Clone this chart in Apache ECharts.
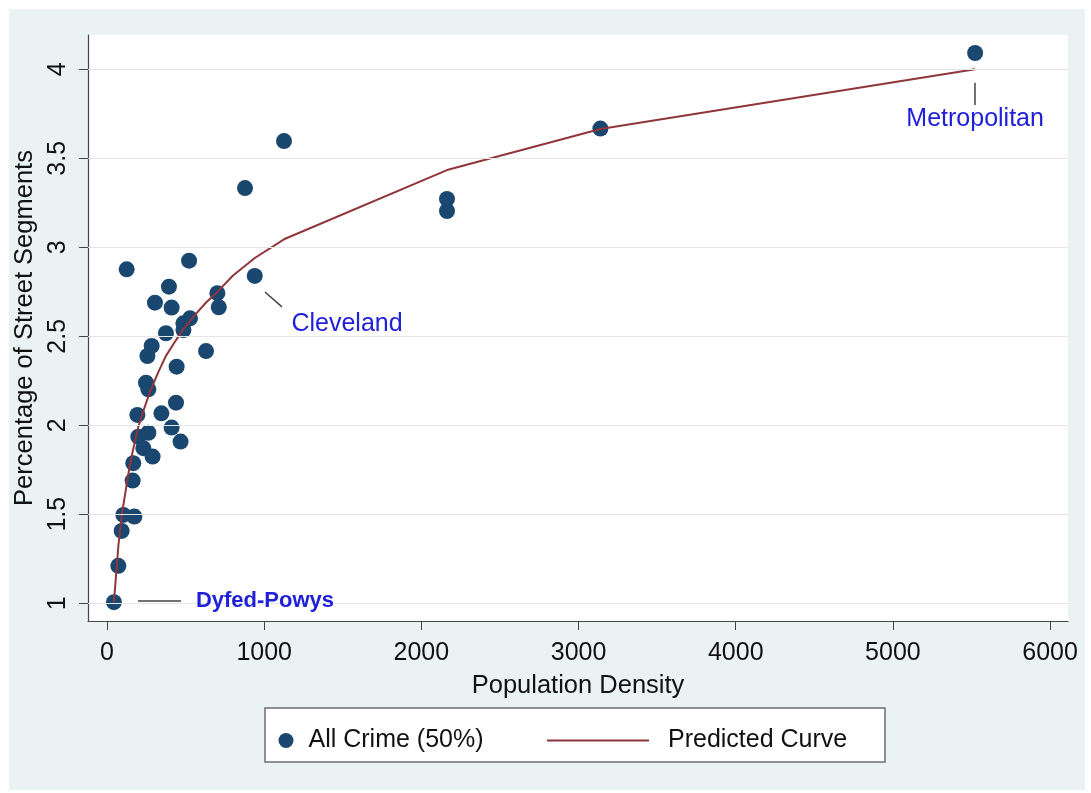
<!DOCTYPE html>
<html>
<head>
<meta charset="utf-8">
<script src="https://cdn.jsdelivr.net/npm/echarts@6/dist/echarts.min.js"></script>
<style>
html,body{margin:0;padding:0;background:#ffffff;}
#chart{width:1091px;height:793px;}
</style>
</head>
<body>
<div id="chart"></div>
<script>
// ---- data ----
const densityX = [125, 522, 394, 305, 411, 940, 702, 711, 528, 486, 486, 375, 284, 257, 630, 443, 248, 263, 439, 193, 346, 411, 468, 263, 199, 231, 290, 167, 163, 104, 174, 93, 72, 44, 1126, 878, 2163, 2163, 3139, 5523];
const crimePct = [2.876, 2.925, 2.779, 2.689, 2.661, 2.839, 2.742, 2.663, 2.601, 2.573, 2.535, 2.517, 2.446, 2.389, 2.417, 2.329, 2.239, 2.202, 2.127, 2.058, 2.067, 1.987, 1.908, 1.958, 1.936, 1.871, 1.824, 1.787, 1.689, 1.496, 1.487, 1.406, 1.210, 1.006, 3.597, 3.333, 3.272, 3.204, 3.667, 4.092];
const curveX = [44, 55, 72, 93, 120, 146, 170, 199, 235, 274, 327, 375, 440, 486, 560, 630, 697, 800, 940, 1126, 2163, 3139, 5523];
const curveY = [1.006, 1.13, 1.32, 1.49, 1.64, 1.78, 1.88, 1.99, 2.09, 2.19, 2.30, 2.39, 2.48, 2.54, 2.62, 2.69, 2.745, 2.84, 2.94, 3.045, 3.434, 3.665, 4.0];
const xTicks = [0, 1000, 2000, 3000, 4000, 5000, 6000];
const yTicks = [1, 1.5, 2, 2.5, 3, 3.5, 4];
const seriesNames = ['All Crime (50%)', 'Predicted Curve'];
// annotation: label text position and leader line ends (data units)
const annoNames = ['Metropolitan', 'Cleveland', 'Dyfed-Powys'];
const annoLabelX = [5523, 1527, 1005];
const annoLabelY = [3.72, 2.57, 1.01];
const annoLineX1 = [5523, 1005, 197];
const annoLineY1 = [3.924, 2.749, 1.013];
const annoLineX2 = [5523, 1113, 471];
const annoLineY2 = [3.80, 2.665, 1.013];

const FONT = '"Liberation Sans", Arial, Helvetica, sans-serif';
const chart = echarts.init(document.getElementById('chart'), null, {renderer: 'canvas'});

const scatterData = densityX.map((x, i) => [x, crimePct[i]]);
const curveData = curveX.map((x, i) => [x, curveY[i]]);
const annoData = annoNames.map((n, i) => ({
  value: [annoLabelX[i], annoLabelY[i]],
  name: n,
  label: i === 2 ? {fontWeight: 'bold', fontSize: 22} : {}
}));
const leaderLines = annoNames.map((n, i) => [
  {coord: [annoLineX1[i], annoLineY1[i]]},
  {coord: [annoLineX2[i], annoLineY2[i]]}
]);

const option = {
  animation: false,
  backgroundColor: '#ffffff',
  graphic: [
    {type: 'rect', z: -10, silent: true, shape: {x: 9, y: 9, width: 1076, height: 781}, style: {fill: '#eaf2f3'}},
    {type: 'rect', z: -5, silent: true, shape: {x: 265, y: 708, width: 620, height: 54}, style: {fill: '#ffffff', stroke: '#6e6e6e', lineWidth: 1.5}}
  ],
  grid: {left: 88, right: 23, top: 35, bottom: 172, show: true, backgroundColor: '#ffffff', borderWidth: 0, containLabel: false},
  xAxis: {
    type: 'value', min: -121, max: 6114,
    name: 'Population Density', nameLocation: 'middle', nameGap: 52,
    nameTextStyle: {fontFamily: FONT, fontSize: 25.5, color: '#111'},
    axisLine: {show: true, onZero: false, lineStyle: {color: '#444', width: 1.2}},
    axisTick: {show: true, customValues: xTicks, length: 9, lineStyle: {color: '#444'}},
    axisLabel: {customValues: xTicks, formatter: v => String(v), fontFamily: FONT, fontSize: 25, color: '#111', margin: 20},
    splitLine: {show: false}
  },
  yAxis: {
    type: 'value', min: 0.90, max: 4.193,
    name: 'Percentage of Street Segments', nameLocation: 'middle', nameRotate: 90, nameGap: 38,
    nameTextStyle: {fontFamily: FONT, fontSize: 25.5, color: '#111'},
    axisLine: {show: true, onZero: false, lineStyle: {color: '#444', width: 1.2}},
    axisTick: {show: true, customValues: yTicks, length: 9, lineStyle: {color: '#444'}},
    axisLabel: {customValues: yTicks, formatter: v => String(v), rotate: 90, fontFamily: FONT, fontSize: 25, color: '#111', margin: 17},
    splitLine: {show: false}
  },
  legend: [
    {data: [seriesNames[0]], left: 278.5, top: 728, padding: 0, itemWidth: 15, itemHeight: 15, icon: 'circle',
     textStyle: {fontFamily: FONT, fontSize: 25, color: '#111', padding: [0, 0, 0, 10]}},
    {data: [{name: seriesNames[1], icon: 'rect', itemStyle: {color: '#90353b'}}], left: 547, top: 728, padding: 0, itemWidth: 102, itemHeight: 2,
     textStyle: {fontFamily: FONT, fontSize: 25, color: '#111', padding: [0, 0, 0, 14]}}
  ],
  series: [
    {
      name: 'grid', type: 'line', data: [], z: 1, silent: true,
      markLine: {silent: true, symbol: 'none', label: {show: false},
        lineStyle: {color: '#e3e6e7', width: 1.2, type: 'solid'},
        data: yTicks.map(v => ({yAxis: v}))}
    },
    {
      name: seriesNames[0], type: 'scatter', data: scatterData, symbolSize: 16, z: 3,
      itemStyle: {color: '#1a476f', opacity: 1},
      markLine: {silent: true, symbol: 'none', label: {show: false},
        lineStyle: {color: '#444', width: 1.5, type: 'solid'}, data: leaderLines}
    },
    {
      name: seriesNames[1], type: 'line', data: curveData, showSymbol: false, symbol: 'none', z: 4,
      lineStyle: {color: '#90353b', width: 2}, itemStyle: {color: '#90353b'}
    },
    {
      name: 'labels', type: 'scatter', data: annoData, symbolSize: 0, z: 5, silent: true,
      itemStyle: {opacity: 1},
      label: {show: true, position: 'inside', formatter: p => p.name, fontFamily: FONT, fontSize: 25, color: '#2020d8', opacity: 1}
    }
  ]
};
chart.setOption(option);
</script>
</body>
</html>
